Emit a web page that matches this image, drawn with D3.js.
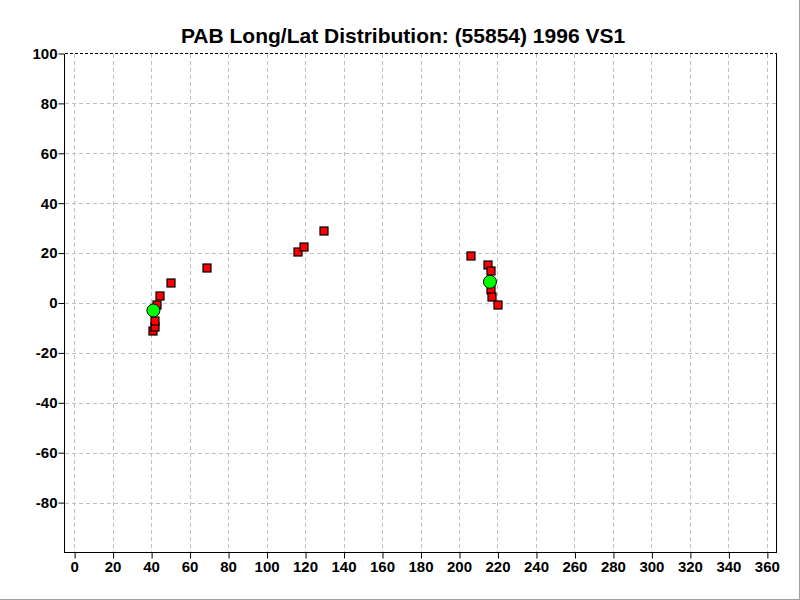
<!DOCTYPE html>
<html><head><meta charset="utf-8">
<script src="https://cdn.jsdelivr.net/npm/d3@7"></script>
<style>
html,body{margin:0;padding:0;background:#fff;}
svg{display:block;}
</style></head>
<body>
<script>
const title = "PAB Long/Lat Distribution: (55854) 1996 VS1";
const xTicks = [0,20,40,60,80,100,120,140,160,180,200,220,240,260,280,300,320,340,360];
const yTicks = [100,80,60,40,20,0,-20,-40,-60,-80];
const redLon = [41.1,41.8,41.8,43.0,44.7,50.2,68.8,116.1,119.7,129.9,206.0,215.2,216.4,216.8,217.4,220.4];
const redLat = [-11.3,-9.6,-7.2,-1.0,2.8,8.0,14.2,20.6,22.6,28.8,19.0,15.1,12.7,5.3,2.5,-1.0];
const greenLon = [41.2,216.1];
const greenLat = [-3.0,8.5];

const W=800,H=600;
const svg=d3.select("body").append("svg").attr("width",W).attr("height",H);
svg.append("rect").attr("width",W).attr("height",H).attr("fill","#fff");
svg.append("line").attr("x1",799.5).attr("x2",799.5).attr("y1",0).attr("y2",600).attr("stroke","#a0a0a0");
svg.append("line").attr("x1",0).attr("x2",800).attr("y1",599.5).attr("y2",599.5).attr("stroke","#a0a0a0");

const L=64.5,R=776.5,T=53.5,B=552.5;
const x=d3.scaleLinear().domain([-5,365]).range([L,R]);
const y=d3.scaleLinear().domain([-100,100]).range([B,T]);
const font="'Liberation Sans', Arial, sans-serif";
const fmt=d=>String(d);

const g=svg.append("g").attr("shape-rendering","crispEdges");
g.selectAll(".vg").data(xTicks).enter().append("line")
 .attr("x1",d=>Math.round(x(d))+0.5).attr("x2",d=>Math.round(x(d))+0.5)
 .attr("y1",T).attr("y2",B).attr("stroke","#c0c0c0").attr("stroke-dasharray","4,3");
g.selectAll(".hg").data(yTicks.filter(d=>d!==100)).enter().append("line")
 .attr("y1",d=>Math.round(y(d))+0.5).attr("y2",d=>Math.round(y(d))+0.5)
 .attr("x1",L).attr("x2",R).attr("stroke","#c0c0c0").attr("stroke-dasharray","4,3");
g.append("line").attr("x1",L).attr("x2",R).attr("y1",T).attr("y2",T).attr("stroke","#000").attr("stroke-dasharray","3,2");
g.append("line").attr("x1",L).attr("x2",L).attr("y1",T).attr("y2",B).attr("stroke","#000");
g.append("line").attr("x1",R).attr("x2",R).attr("y1",T).attr("y2",B).attr("stroke","#000");
g.append("line").attr("x1",L).attr("x2",R).attr("y1",B).attr("y2",B).attr("stroke","#000");

const xAxis=d3.axisBottom(x).tickValues(xTicks).tickSize(6).tickPadding(3).tickFormat(fmt);
const ax=svg.append("g").attr("transform",`translate(0,${B})`).call(xAxis);
ax.select(".domain").remove();
ax.selectAll("line").attr("stroke","#000").attr("transform","translate(0.5,0)");
ax.selectAll("text").attr("font-family",font).attr("font-size",15).attr("font-weight","bold").attr("fill","#000");

const yAxis=d3.axisLeft(y).tickValues(yTicks).tickSize(6).tickPadding(1).tickFormat(fmt);
const ay=svg.append("g").attr("transform",`translate(${L},0)`).call(yAxis);
ay.select(".domain").remove();
ay.selectAll("line").attr("stroke","#000");
ay.selectAll("text").attr("font-family",font).attr("font-size",15).attr("font-weight","bold").attr("fill","#000");

const red=redLon.map((d,i)=>({lon:d,lat:redLat[i]}));
const green=greenLon.map((d,i)=>({lon:d,lat:greenLat[i]}));
const s=9;
svg.append("g").selectAll("rect").data(red).enter().append("rect")
 .attr("x",d=>Math.round(x(d.lon))-s/2+0.5).attr("y",d=>Math.round(y(d.lat))-s/2+0.5)
 .attr("width",s-1).attr("height",s-1).attr("fill","#ff0000").attr("stroke","#000").attr("stroke-width",1.2);
svg.append("g").selectAll("circle").data(green).enter().append("circle")
 .attr("cx",d=>x(d.lon)).attr("cy",d=>y(d.lat)).attr("r",6.5)
 .attr("fill","#00ff00").attr("stroke","#000").attr("stroke-width",1);

svg.append("text").attr("x",403).attr("y",43).attr("text-anchor","middle")
 .attr("font-family",font).attr("font-size",21).attr("font-weight","bold").attr("fill","#000").text(title);
</script>
</body></html>
